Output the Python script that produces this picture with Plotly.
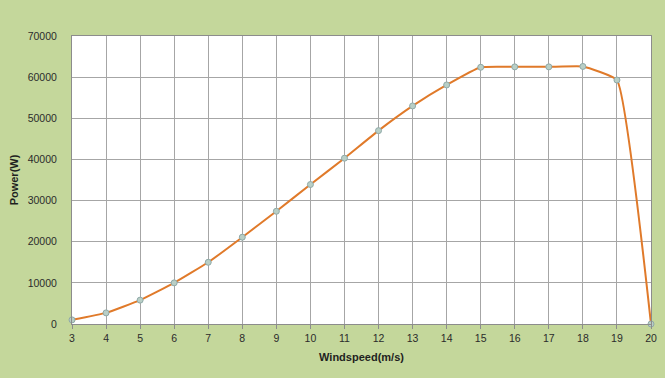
import plotly.graph_objects as go

wind_speed = [3, 4, 5, 6, 7, 8, 9, 10, 11, 12, 13, 14, 15, 16, 17, 18, 19, 20]
power_w = [1000, 2700, 5800, 10000, 15000, 21100, 27400, 33900, 40300, 47000,
           53000, 58100, 62400, 62500, 62500, 62600, 59300, 0]
x_ticks = list(range(3, 21))
y_ticks = list(range(0, 70001, 10000))

fig = go.Figure()
fig.add_trace(go.Scatter(
    x=wind_speed, y=power_w, mode="lines+markers",
    line=dict(color="#e07a2a", width=2, shape="spline", smoothing=0.35),
    marker=dict(size=6, color="#b9cfc6", line=dict(color="#8fa9a8", width=1)),
    cliponaxis=False,
    showlegend=False,
))

fig.update_layout(
    width=665, height=378,
    paper_bgcolor="#c4d79b",
    plot_bgcolor="#ffffff",
    margin=dict(l=72, r=14, t=36, b=54),
    font=dict(family="Liberation Sans, Arial, sans-serif", size=10.5, color="#2b2b2b"),
)
fig.update_xaxes(
    range=[3, 20], tickvals=x_ticks, ticktext=[str(v) for v in x_ticks],
    showgrid=True, gridcolor="#a6a6a6", gridwidth=1,
    showline=True, linecolor="#8c8c8c", mirror=True,
    ticks="outside", ticklen=4, tickcolor="#8c8c8c",
    zeroline=False, automargin=False,
    title=dict(text="<b>Windspeed(m/s)</b>", font=dict(size=11, color="#1f1f1f"), standoff=10),
)
fig.update_yaxes(
    range=[0, 70000], tickvals=y_ticks, ticktext=[str(v) for v in y_ticks],
    showgrid=True, gridcolor="#a6a6a6", gridwidth=1,
    showline=True, linecolor="#8c8c8c", mirror=True,
    ticks="", zeroline=False, ticklabelstandoff=12, automargin=False,
    title=dict(text="<b>Power(W)</b>", font=dict(size=11, color="#1f1f1f"), standoff=6),
)
fig.write_html("out.html", config={"displayModeBar": False},
               post_script="document.body.style.margin='0';document.body.style.overflow='hidden';")
